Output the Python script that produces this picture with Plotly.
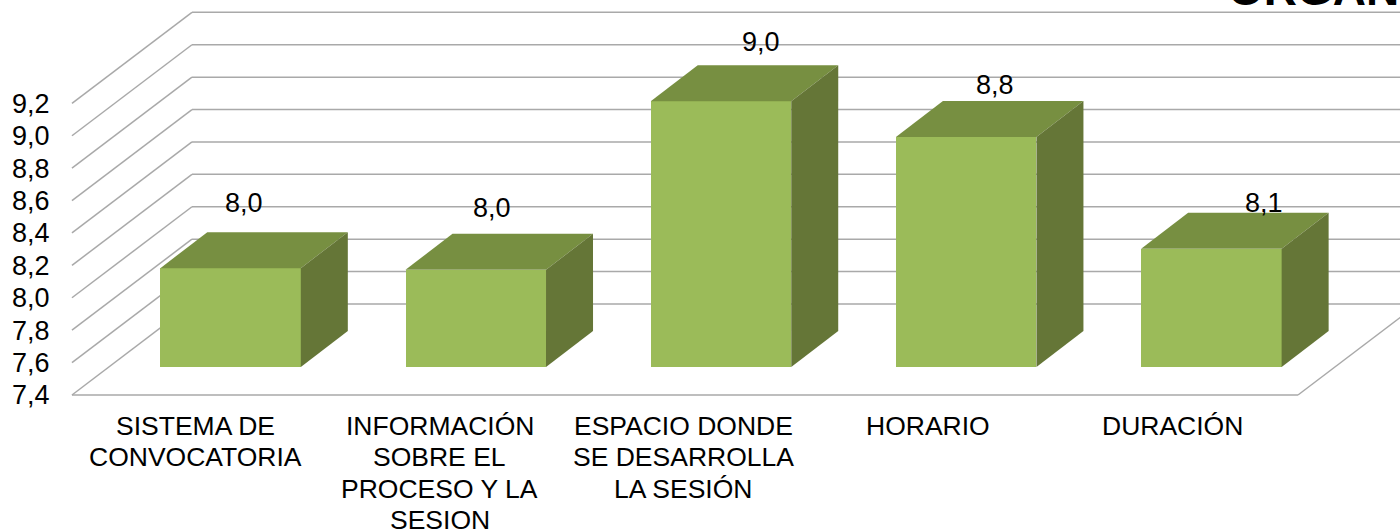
import plotly.graph_objects as go

category_lines = [["SISTEMA DE", "CONVOCATORIA"], ["INFORMACIÓN", "SOBRE EL", "PROCESO Y LA", "SESION"],
                  ["ESPACIO DONDE", "SE DESARROLLA", "LA SESIÓN"], ["HORARIO"], ["DURACIÓN"]]
values = [8.01, 8.0, 9.04, 8.82, 8.13]
y_ticks = [7.4, 7.6, 7.8, 8.0, 8.2, 8.4, 8.6, 8.8, 9.0, 9.2]
label_xshift = [13, 16, 40, 29, 53]
label_yshift = [65, 62, 59, 52, 46]
category_xshift = [0.5, 0, -1.5, -2.5, -3]

FRONT, TOP, SIDE = "#9BBB59", "#778F41", "#657637"
GRID = "#A9A9A9"
FONT = "Liberation Sans, Arial, sans-serif"

# projection constants, in axis units (category / value)
WALL_DX, WALL_DY = 120 / 245.2, 91 / 162
BAR_X, BAR_Y = 36 / 245.2, 28 / 162
DEPTH_X, DEPTH_Y = 47 / 245.2, 36 / 162
BAR_W = 140.5 / 245.2
X_RANGE = [-0.508, 4.916]
Y_RANGE = [7.369, 9.838]
BASE = y_ticks[0]

fig = go.Figure()
xs = [i + BAR_X for i in range(len(values))]
fig.add_trace(go.Bar(x=xs, y=[v - BASE for v in values], base=BASE + BAR_Y, width=BAR_W,
                     marker=dict(color=FRONT, line=dict(width=0)), showlegend=False, hoverinfo="skip"))

for x, v in zip(xs, values):
    l, r = x - BAR_W / 2, x + BAR_W / 2
    t = v + BAR_Y
    b = BASE + BAR_Y
    fig.add_trace(go.Scatter(x=[l, r, r + DEPTH_X, l + DEPTH_X, l], y=[t, t, t + DEPTH_Y, t + DEPTH_Y, t],
                             mode="lines", fill="toself", fillcolor=TOP, line=dict(width=0),
                             showlegend=False, hoverinfo="skip"))
    fig.add_trace(go.Scatter(x=[r, r + DEPTH_X, r + DEPTH_X, r, r],
                             y=[t, t + DEPTH_Y, b + DEPTH_Y, b, t],
                             mode="lines", fill="toself", fillcolor=SIDE, line=dict(width=0),
                             showlegend=False, hoverinfo="skip"))

shapes = []
def seg(x0, y0, x1, y1):
    shapes.append(dict(type="line", xref="x", yref="y", x0=x0, y0=y0, x1=x1, y1=y1,
                       line=dict(color=GRID, width=1.5), layer="below"))

for tick in y_ticks:
    seg(-0.5, tick, -0.5 + WALL_DX, tick + WALL_DY)
    seg(-0.5 + WALL_DX, tick + WALL_DY, X_RANGE[1], tick + WALL_DY)
seg(-0.5, BASE, 4.5, BASE)
seg(4.5, BASE, 4.5 + WALL_DX, BASE + WALL_DY)

annotations = []
for x, v, dx, dy in zip(xs, values, label_xshift, label_yshift):
    annotations.append(dict(x=x, y=v + BAR_Y, xref="x", yref="y", text=f"{v:.1f}".replace(".", ","),
                            showarrow=False, xshift=dx, yshift=dy, xanchor="center", yanchor="middle",
                            font=dict(family=FONT, size=27, color="#000000")))
for i, lines in enumerate(category_lines):
    for j, line in enumerate(lines):
        annotations.append(dict(x=i, y=BASE, xref="x", yref="y", text=line, showarrow=False,
                                xanchor="center", yanchor="middle", xshift=category_xshift[i],
                                yshift=-31 - 31.3 * j,
                                font=dict(family=FONT, size=26.5, color="#000000")))
annotations.append(dict(x=(1226 - 70) / 1330, y=1.0, xref="paper", yref="paper",
                        text="<b>ORGANIZACIÓN</b>", showarrow=False,
                        xanchor="left", yanchor="bottom", yshift=-17,
                        font=dict(family=FONT, size=46, color="#000000")))
annotations.append(dict(x=(1381 - 70) / 1330, y=0, xref="paper", yref="paper", text="6", showarrow=False,
                        xanchor="center", yanchor="top", yshift=-126,
                        font=dict(family=FONT, size=20, color="#7F7F7F")))

fig.update_layout(
    width=1400, height=529, margin=dict(l=70, r=0, t=0, b=129),
    paper_bgcolor="white", plot_bgcolor="white", separators=",.",
    showlegend=False, shapes=shapes, annotations=annotations, bargap=0,
    xaxis=dict(range=X_RANGE, tickmode="array", tickvals=[], automargin=False,
               showgrid=False, zeroline=False, showline=False),
    yaxis=dict(range=Y_RANGE, tickmode="array", tickvals=y_ticks, tickformat=".1f", automargin=False,
               showgrid=False, zeroline=False, showline=False, ticks="outside", ticklen=14,
               tickcolor="rgba(0,0,0,0)", tickfont=dict(family=FONT, size=27, color="#000000")),
)
fig.write_html("out.html", post_script="document.body.style.margin='0';",
               config={"displayModeBar": False})
